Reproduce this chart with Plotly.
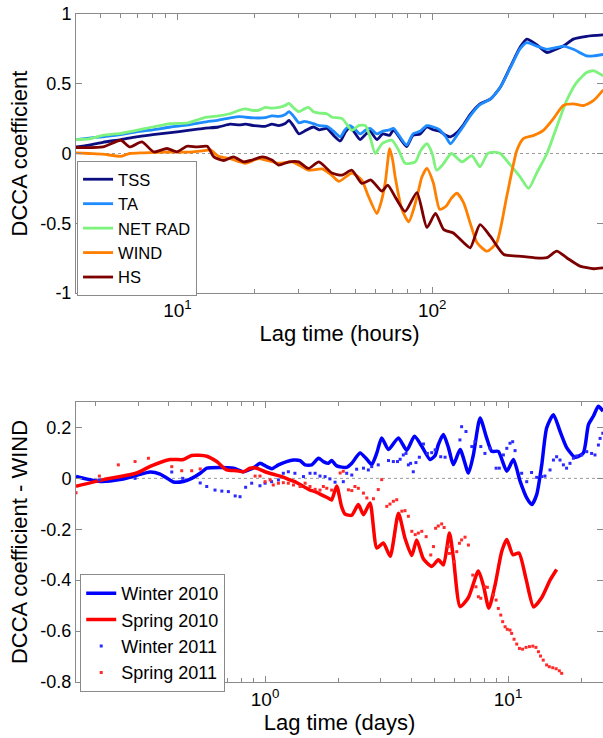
import numpy as np
import plotly.graph_objects as go

# ---------------- Top panel data (lag in hours) ----------------
tss_lag = [4.0, 4.5, 5.1, 6.0, 6.9, 8.0, 9.4, 11.0, 12.7, 14.5, 16.1, 17.5, 18.5, 20.0, 22.1, 23.5, 25.0, 26.5, 27.4, 28.5,
           30.0, 31.5, 34.2, 36.0, 38.6, 41.0, 43.6, 45.5, 47.6, 50.0, 52.1, 55.0, 57.0, 60.7, 64.0, 68.0, 70.5, 74.0,
           79.4, 84.0, 89.7, 95.3, 101, 107, 113, 118, 125, 133, 141, 154, 169, 185, 202, 221, 235, 257, 282, 308, 327,
           358, 404, 469]
tss_val = [0.047, 0.06, 0.08, 0.10, 0.12, 0.135, 0.15, 0.165, 0.18, 0.19, 0.21, 0.205, 0.21, 0.20, 0.195, 0.21, 0.20, 0.215,
           0.237, 0.20, 0.14, 0.16, 0.19, 0.17, 0.18, 0.13, 0.09, 0.15, 0.19, 0.14, 0.10, 0.14, 0.16, 0.10, 0.14, 0.13,
           0.17, 0.12, 0.05, 0.13, 0.14, 0.19, 0.17, 0.16, 0.13, 0.12, 0.15, 0.21, 0.28, 0.356, 0.39, 0.475, 0.617, 0.76,
           0.82, 0.78, 0.724, 0.75, 0.77, 0.82, 0.84, 0.85]

ta_lag = [4.0, 4.5, 5.1, 6.0, 6.9, 8.0, 9.4, 11.0, 12.7, 14.5, 16.1, 17.5, 18.5, 20.0, 22.1, 23.5, 25.0, 26.5, 27.4, 28.5,
          30.0, 31.5, 34.2, 36.0, 38.6, 41.0, 43.6, 45.5, 47.6, 50.0, 52.1, 55.0, 57.0, 60.7, 64.0, 68.0, 70.5, 74.0,
          79.4, 84.0, 89.7, 95.3, 101, 107, 113, 118, 125, 133, 141, 154, 169, 185, 202, 221, 235, 257, 282, 308, 327,
          358, 404, 430, 469]
ta_val = [0.10, 0.11, 0.12, 0.135, 0.155, 0.17, 0.19, 0.205, 0.225, 0.24, 0.256, 0.265, 0.26, 0.255, 0.257, 0.27, 0.266,
          0.28, 0.30, 0.27, 0.22, 0.23, 0.214, 0.20, 0.195, 0.16, 0.12, 0.17, 0.20, 0.17, 0.14, 0.17, 0.18, 0.14, 0.16,
          0.17, 0.18, 0.13, 0.06, 0.14, 0.16, 0.20, 0.19, 0.17, 0.12, 0.07, 0.13, 0.20, 0.27, 0.35, 0.39, 0.475, 0.61,
          0.75, 0.795, 0.77, 0.747, 0.76, 0.77, 0.747, 0.70, 0.70, 0.71]

netrad_lag = [4.0, 4.5, 5.1, 6.0, 6.9, 8.0, 9.4, 11.0, 12.7, 14.5, 16.1, 17.5, 18.5, 19.6, 20.8, 22.1, 23.5, 25.0, 26.5,
              27.4, 28.5, 30.0, 31.5, 32.7, 34.2, 36.0, 38.6, 40.4, 44.3, 48.4, 51.4, 54.7, 57.0, 59.8, 63.5, 69.5, 74.0,
              78.3, 85.9, 90.0, 95.3, 100, 104, 110, 119, 131, 143, 154, 165, 174, 185, 202, 221, 239, 257, 282, 308,
              337, 369, 404, 430, 469]
netrad_val = [0.10, 0.105, 0.13, 0.145, 0.166, 0.19, 0.214, 0.22, 0.256, 0.27, 0.285, 0.31, 0.32, 0.31, 0.31, 0.33, 0.325,
              0.33, 0.345, 0.36, 0.33, 0.30, 0.32, 0.33, 0.30, 0.29, 0.285, 0.26, 0.25, 0.166, 0.20, 0.20, 0.12, 0.0,
              0.07, 0.095, 0.02, -0.07, -0.06, 0.02, 0.07, 0.0, -0.12, -0.08, 0.0, -0.06, -0.015, -0.095, 0.0, 0.01,
              0.0, -0.08, -0.166, -0.25, -0.14, 0.0, 0.19, 0.38, 0.51, 0.58, 0.593, 0.557]

wind_lag = [4.0, 4.5, 5.1, 6.0, 6.5, 7.4, 9.1, 11.0, 12.7, 13.5, 14.5, 16.1, 18.5, 20.8, 22.5, 25.0, 28.2, 30.5, 32.7,
            37.0, 40.0, 43.0, 48.4, 52.9, 56.0, 60.7, 63.0, 65.4, 68.1, 70.0, 71.6, 76.0, 80.9, 84.5, 88.5, 91.0, 95.3,
            101, 107, 113, 119, 125, 133, 141, 150, 164, 179, 196, 215, 228, 250, 273, 299, 327, 358, 392, 430, 469]
wind_val = [0.005, 0.0, -0.005, -0.02, 0.0, 0.005, 0.01, 0.01, 0.02, 0.025, -0.02, -0.036, -0.07, -0.036, -0.05, -0.07,
            -0.06, -0.09, -0.12, -0.11, -0.15, -0.20, -0.14, -0.19, -0.30, -0.43, -0.35, -0.21, 0.035, -0.05, -0.17,
            -0.40, -0.49, -0.40, -0.26, -0.17, -0.107, -0.21, -0.40, -0.38, -0.32, -0.285, -0.356, -0.50, -0.64, -0.70,
            -0.64, -0.31, 0.024, 0.107, 0.13, 0.166, 0.25, 0.344, 0.356, 0.344, 0.38, 0.456]

hs_lag = [4.0, 5.1, 6.0, 6.5, 7.26, 8.07, 9.1, 9.96, 10.9, 11.9, 13.1, 13.9, 15.2, 16.6, 18.2, 19.6, 21.5, 23.5, 25.0,
          27.4, 29.9, 32.7, 35.9, 40.4, 44.3, 48.4, 52.9, 57.5, 63.5, 66.9, 72.0, 78.3, 87.1, 95.3, 103, 111, 121, 133,
          141, 154, 169, 191, 215, 250, 282, 308, 337, 380, 430, 469]
hs_val = [0.043, 0.047, 0.095, 0.047, 0.083, 0.012, 0.036, 0.012, 0.052, 0.047, 0.052, -0.024, -0.05, -0.024, -0.06,
          -0.047, -0.024, -0.047, -0.083, -0.06, -0.06, -0.107, -0.06, -0.14, -0.155, -0.12, -0.214, -0.19, -0.27,
          -0.226, -0.32, -0.415, -0.28, -0.53, -0.43, -0.546, -0.57, -0.64, -0.676, -0.51, -0.593, -0.724, -0.735,
          -0.747, -0.747, -0.70, -0.747, -0.807, -0.826, -0.82]

top_names = ["TSS", "TA", "NET RAD", "WIND", "HS"]
top_colors = ["#0d0d82", "#1e8cff", "#7df27d", "#ff8000", "#7d0000"]

# ---------------- Bottom panel data (lag in days) ----------------
w10_lag = [0.1667, 0.1905, 0.2094, 0.2529, 0.2965, 0.3365, 0.3698, 0.4198, 0.4613, 0.4989, 0.5408, 0.5754, 0.6531,
           0.7413, 0.8147, 0.8670, 0.9099, 0.9528, 1.016, 1.067, 1.135, 1.227, 1.309, 1.393, 1.462, 1.556, 1.660,
           1.738, 1.824, 1.879, 1.972, 2.168, 2.275, 2.460, 2.624, 2.748, 2.884, 3.020, 3.221, 3.540, 3.828, 4.121,
           4.416, 4.775, 5.012, 5.164, 5.420, 5.689, 5.957, 6.353, 6.871, 7.194, 7.674, 8.166, 8.570, 9.120, 9.886,
           10.52, 11.22, 11.94, 12.53, 13.12, 13.77, 14.42, 15.38, 16.37, 17.46, 18.88, 20.42, 21.43, 22.44, 23.55,
           24.60]
w10_val = [0.008, -0.005, -0.012, -0.005, 0.012, 0.025, 0.017, -0.014, -0.012, 0.0, 0.02, 0.040, 0.043, 0.040, 0.026,
           0.035, 0.046, 0.059, 0.046, 0.038, 0.053, 0.066, 0.072, 0.070, 0.053, 0.053, 0.079, 0.066, 0.059, 0.070,
           0.049, 0.043, 0.059, 0.100, 0.075, 0.054, 0.100, 0.159, 0.113, 0.159, 0.110, 0.165, 0.126, 0.074, 0.090,
           0.132, 0.172, 0.120, 0.054, 0.113, 0.021, 0.09, 0.237, 0.159, 0.106, 0.106, 0.028, 0.074, -0.012, -0.077,
           -0.103, -0.064, 0.054, 0.198, 0.25, 0.185, 0.12, 0.083, 0.10, 0.211, 0.244, 0.283, 0.264]

s10_lag = [0.1667, 0.2163, 0.2965, 0.3365, 0.4064, 0.4613, 0.4989, 0.5754, 0.6324, 0.6950, 0.7638, 0.8147, 0.8670,
           0.9247, 1.0, 1.081, 1.172, 1.247, 1.327, 1.439, 1.531, 1.607, 1.710, 1.824, 1.879, 1.972, 2.065, 2.133,
           2.275, 2.421, 2.541, 2.704, 2.884, 3.069, 3.273, 3.540, 3.767, 4.018, 4.207, 4.487, 4.853, 5.164, 5.420,
           5.741, 5.957, 6.353, 6.871, 7.551, 7.925, 8.337, 8.851, 9.419, 9.886, 10.47, 11.09, 11.86, 12.74, 13.77,
           14.89, 15.85]
s10_val = [-0.031, -0.005, 0.021, 0.047, 0.074, 0.074, 0.090, 0.087, 0.066, 0.033, 0.030, 0.026, 0.040, 0.040, 0.026,
           0.016, 0.007, -0.004, -0.013, -0.032, -0.046, -0.052, -0.065, -0.078, -0.085, -0.030, -0.111, -0.140,
           -0.145, -0.103, -0.143, -0.097, -0.274, -0.254, -0.306, -0.137, -0.235, -0.303, -0.242, -0.317, -0.346,
           -0.320, -0.340, -0.215, -0.310, -0.504, -0.468, -0.364, -0.422, -0.510, -0.418, -0.287, -0.240, -0.300,
           -0.293, -0.395, -0.505, -0.468, -0.400, -0.358]

w11_lag = [0.2075, 0.2917, 0.4130, 0.4581, 0.5408, 0.5754, 0.6223, 0.6637, 0.7063, 0.7534, 0.7889, 0.8318, 0.8810,
           0.9528, 1.0, 1.064, 1.135, 1.189, 1.247, 1.327, 1.439, 1.531, 1.607, 1.683, 1.766, 1.849, 1.941, 2.099,
           2.168, 2.275, 2.382, 2.541, 2.661, 2.748, 2.924, 3.221, 3.373, 3.508, 3.597, 3.707, 3.802, 3.890, 3.972,
           4.074, 4.178, 4.315, 4.487, 4.656, 4.853, 5.012, 5.284, 5.508, 6.339, 6.442, 6.714, 7.096, 7.311, 7.727,
           8.035, 8.433, 8.933, 9.204, 9.572, 9.886, 10.19, 10.45, 10.69, 11.38, 11.94, 12.50, 13.12, 13.77, 14.19,
           14.89, 15.38, 15.85, 16.37, 16.90, 17.42, 17.99, 18.58, 19.19, 20.09, 21.09, 22.08, 22.80, 23.55, 23.93,
           24.55]
w11_val = [-0.006, 0.0, 0.025, 0.0, -0.018, -0.032, -0.046, -0.050, -0.052, -0.069, -0.072, -0.035, -0.019, -0.029,
           -0.019, -0.013, -0.006, 0.020, 0.026, 0.020, 0.007, 0.020, 0.020, 0.009, 0.007, -0.002, -0.015, -0.013,
           0.020, 0.013, 0.036, 0.040, 0.033, 0.046, 0.053, 0.070, 0.066, 0.066, 0.075, 0.092, 0.098, 0.053, 0.059,
           0.026, 0.062, 0.083, 0.135, 0.098, 0.101, 0.112, 0.085, 0.083, 0.151, 0.203, 0.184, 0.125, 0.144, 0.125,
           0.098, 0.118, 0.040, 0.040, 0.092, 0.118, 0.138, 0.144, 0.109, 0.020, -0.013, 0.023, 0.004, 0.007, 0.009,
           0.033, 0.072, 0.085, 0.072, 0.053, 0.040, 0.059, 0.079, 0.088, 0.092, 0.105, 0.098, 0.092, 0.131, 0.157,
           0.177]

s11_lag = [0.1667, 0.2080, 0.2489, 0.2917, 0.3311, 0.4130, 0.4539, 0.4989, 0.5408, 0.9099, 0.9528, 1.0, 1.050, 1.081,
           1.135, 1.189, 1.247, 1.309, 1.393, 1.462, 1.531, 1.607, 1.683, 1.738, 1.795, 1.879, 2.037, 2.099, 2.203,
           2.275, 2.344, 2.421, 2.541, 2.624, 2.793, 2.924, 3.020, 3.170, 3.266, 3.373, 3.483, 3.656, 3.767, 3.890,
           4.018, 4.150, 4.276, 4.416, 4.603, 4.808, 4.932, 5.035, 5.164, 5.333, 5.458, 5.675, 5.741, 5.998, 6.152,
           6.310, 6.442, 6.653, 6.871, 7.161, 7.379, 7.551, 7.727, 8.035, 8.222, 8.710, 8.933, 9.120, 9.333, 9.506,
           9.727, 9.931, 10.19, 10.35, 10.59, 10.86, 11.14, 11.48, 11.86, 12.25, 12.65, 13.03, 13.34, 13.61, 13.96,
           14.42, 14.79, 15.28, 15.78, 16.26, 16.63]
s11_val = [-0.057, 0.009, 0.053, 0.066, 0.079, 0.046, 0.030, 0.030, 0.037, 0.009, 0.009, -0.013, -0.006, -0.026,
           -0.019, -0.017, -0.019, -0.026, -0.032, -0.019, -0.032, -0.043, -0.046, -0.032, -0.039, -0.046, 0.021,
           0.028, -0.045, -0.048, -0.032, -0.039, -0.058, -0.077, -0.080, -0.044, -0.005, -0.110, -0.101, -0.090,
           -0.084, -0.129, -0.127, -0.149, -0.208, -0.221, -0.215, -0.208, -0.229, -0.301, -0.268, -0.196, -0.187,
           -0.179, -0.193, -0.268, -0.295, -0.327, -0.288, -0.255, -0.242, -0.231, -0.262, -0.380, -0.426, -0.465,
           -0.471, -0.426, -0.428, -0.458, -0.478, -0.511, -0.537, -0.563, -0.583, -0.593, -0.596, -0.609, -0.632,
           -0.651, -0.668, -0.671, -0.664, -0.661, -0.659, -0.664, -0.681, -0.698, -0.714, -0.733, -0.740, -0.744,
           -0.748, -0.756, -0.766]

# axis settings
top_xlim = [4.0, 468.0]
top_ylim = [-1.0, 1.0]
top_yticks = [-1, -0.5, 0, 0.5, 1]
top_ytext = ["-1", "-0.5", "0", "0.5", "1"]
top_xticks = [10, 100]
top_xtext = ["10<sup>1</sup>", "10<sup>2</sup>"]
top_xminor = [5, 6, 7, 8, 9, 20, 30, 40, 50, 60, 70, 80, 90, 200, 300, 400]

bot_xlim = [1 / 6, 24.6]
bot_ylim = [-0.8, 0.3]
bot_yticks = [-0.8, -0.6, -0.4, -0.2, 0, 0.2]
bot_ytext = ["-0.8", "-0.6", "-0.4", "-0.2", "0", "0.2"]
bot_xticks = [1, 10]
bot_xtext = ["10<sup>0</sup>", "10<sup>1</sup>"]
bot_xminor = [0.2, 0.3, 0.4, 0.5, 0.6, 0.7, 0.8, 0.9, 2, 3, 4, 5, 6, 7, 8, 9, 20]

FONT = "Arial, Liberation Sans, sans-serif"
FRAME = "#8a8a8a"

fig = go.Figure()

top_series = [(tss_lag, tss_val), (ta_lag, ta_val), (netrad_lag, netrad_val), (wind_lag, wind_val), (hs_lag, hs_val)]
for (lx, vy), name, col in zip(top_series, top_names, top_colors):
    fig.add_trace(go.Scatter(x=lx, y=vy, name=name, mode="lines",
                             line=dict(color=col, width=2.8, shape="spline", smoothing=0.6),
                             xaxis="x", yaxis="y", legend="legend"))

fig.add_trace(go.Scatter(x=w10_lag, y=w10_val, name="Winter 2010", mode="lines",
                         line=dict(color="#0000ff", width=3.5, shape="spline", smoothing=0.6),
                         xaxis="x2", yaxis="y2", legend="legend2"))
fig.add_trace(go.Scatter(x=s10_lag, y=s10_val, name="Spring 2010", mode="lines",
                         line=dict(color="#ff0000", width=3.5, shape="spline", smoothing=0.6),
                         xaxis="x2", yaxis="y2", legend="legend2"))
fig.add_trace(go.Scatter(x=w11_lag, y=w11_val, name="Winter 2011", mode="markers",
                         marker=dict(color="#2a2aff", size=3, symbol="square"),
                         xaxis="x2", yaxis="y2", legend="legend2"))
fig.add_trace(go.Scatter(x=s11_lag, y=s11_val, name="Spring 2011", mode="markers",
                         marker=dict(color="#ff2a2a", size=3, symbol="square"),
                         xaxis="x2", yaxis="y2", legend="legend2"))

W, H = 603, 738
ml, mr, mt, mb = 76, 0, 14, 56
ph = H - mt - mb
top_dom = [(682 - 293) / ph, 1.0]
bot_dom = [0.0, (682 - 402) / ph]

def xax(domain_anchor, lim, tv, tt, minor, title):
    return dict(type="log", range=[np.log10(lim[0]), np.log10(lim[1])], anchor=domain_anchor,
                tickmode="array", tickvals=tv, ticktext=tt, ticks="inside", ticklen=6, tickcolor=FRAME,
                minor=dict(tickmode="array", tickvals=minor, ticks="inside", ticklen=4, tickcolor=FRAME),
                showline=True, linecolor=FRAME, linewidth=1, mirror="ticks", showgrid=False, zeroline=False,
                automargin=False,
                tickfont=dict(family=FONT, size=19, color="black"),
                title=dict(text=title, font=dict(family=FONT, size=22, color="black"), standoff=0))

def yax(domain, anchor, lim, tv, tt, title):
    return dict(domain=domain, anchor=anchor, range=lim, tickmode="array", tickvals=tv, ticktext=tt,
                ticks="inside", ticklen=6, tickcolor=FRAME, showline=True, linecolor=FRAME, linewidth=1,
                mirror="ticks", showgrid=False, zeroline=False, automargin=False,
                tickfont=dict(family=FONT, size=18, color="black"),
                title=dict(text=title, font=dict(family=FONT, size=22, color="black"), standoff=6))

fig.update_layout(
    width=W, height=H, margin=dict(l=ml, r=mr, t=mt, b=mb),
    paper_bgcolor="white", plot_bgcolor="white",
    font=dict(family=FONT, color="black"),
    xaxis=xax("y", top_xlim, top_xticks, top_xtext, top_xminor, "Lag time (hours)"),
    yaxis=yax(top_dom, "x", top_ylim, top_yticks, top_ytext, "DCCA coefficient"),
    xaxis2=xax("y2", bot_xlim, bot_xticks, bot_xtext, bot_xminor, "Lag time (days)"),
    yaxis2=yax(bot_dom, "x2", bot_ylim, bot_yticks, bot_ytext, "DCCA coefficient - WIND"),
    legend=dict(x=0.002, y=(682 - 161) / ph, xanchor="left", yanchor="top", bgcolor="white",
                bordercolor=FRAME, borderwidth=1, font=dict(family=FONT, size=16.5, color="black"),
                tracegroupgap=0, itemwidth=30),
    legend2=dict(x=0.008, y=(682 - 574) / ph, xanchor="left", yanchor="top", bgcolor="white",
                 bordercolor=FRAME, borderwidth=1, font=dict(family=FONT, size=18, color="black"),
                 tracegroupgap=0, itemwidth=30),
    showlegend=True,
)

# dotted zero reference lines
for xr, yr in [("x domain", "y"), ("x2 domain", "y2")]:
    fig.add_shape(type="line", xref=xr, yref=yr, x0=0, x1=1, y0=0, y1=0,
                  line=dict(color="#9a9a9a", width=1, dash="dot"), layer="below")

fig.write_html("out.html", config={"displayModeBar": False},
               post_script="document.body.style.margin='0';document.body.style.overflow='hidden';")
